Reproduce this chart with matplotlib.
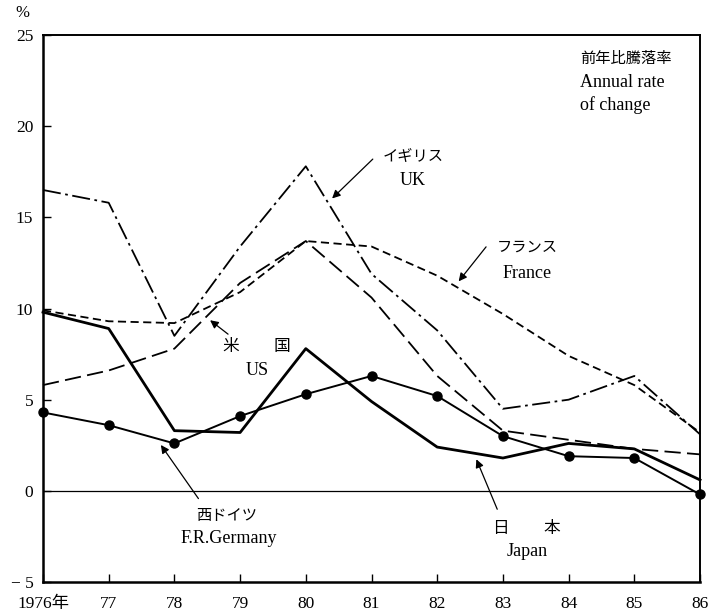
import matplotlib
matplotlib.use("Agg")
import matplotlib.pyplot as plt

plt.rcParams['font.family'] = ['Liberation Serif', 'Noto Sans CJK JP', 'DejaVu Sans']

years = [1976, 1977, 1978, 1979, 1980, 1981, 1982, 1983, 1984, 1985, 1986]
year_labels = ['1976年', '77', '78', '79', '80', '81', '82', '83', '84', '85', '86']
japan = [9.8, 8.9, 3.3, 3.2, 7.8, 4.9, 2.4, 1.8, 2.6, 2.3, 0.6]
germany = [4.3, 3.6, 2.6, 4.1, 5.3, 6.3, 5.2, 3.0, 1.9, 1.8, -0.2]
us = [5.8, 6.6, 7.8, 11.4, 13.7, 10.6, 6.3, 3.3, 2.8, 2.3, 2.0]
france = [9.9, 9.3, 9.2, 10.9, 13.7, 13.4, 11.8, 9.7, 7.4, 5.8, 3.2]
uk = [16.5, 15.8, 8.5, 13.4, 17.8, 11.9, 8.8, 4.5, 5.0, 6.3, 3.1]
yticks = [-5, 0, 5, 10, 15, 20, 25]
ytick_labels = ['− 5', '0', '5', '10', '15', '20', '25']

fig = plt.figure(figsize=(7.13, 6.14), dpi=100)
ax = fig.add_axes([0.0603, 0.0521, 0.9215, 0.8909])

ax.plot(years, japan, color='black', lw=2.0, clip_on=False)
ax.plot(years, germany, color='black', lw=1.4, marker='o', ms=6.5, clip_on=False, zorder=4)
ax.plot(years, us, color='black', lw=1.3, dashes=(9, 3.5), clip_on=False)
ax.plot(years, france, color='black', lw=1.3, dashes=(4.5, 2.5), clip_on=False)
ax.plot(years, uk, color='black', lw=1.3, dashes=(10, 2.5, 1.5, 2.5), clip_on=False)
ax.axhline(0, color='black', lw=0.9)

ax.set_xlim(1976, 1986)
ax.set_ylim(-5, 25)
ax.set_xticks(years)
ax.set_xticklabels(year_labels, fontsize=12.5)
ax.set_yticks(yticks)
ax.set_yticklabels(ytick_labels, fontsize=12.5)
ax.tick_params(direction='in', length=6, width=1.0)
ax.tick_params(axis='x', pad=10)
ax.tick_params(axis='y', pad=7)
for s in ax.spines.values():
    s.set_linewidth(1.4)
ax.spines['bottom'].set_linewidth(1.8)
ax.spines['left'].set_linewidth(1.8)

fig.text(0.032, 0.979, '%', fontsize=12, ha='center', va='center')

arrow = dict(arrowstyle='-|>', color='black', lw=0.9, mutation_scale=12)
jfs = 11
efs = 13

# UK
ax.annotate('', xy=(1980.37, 15.93), xytext=(1981.05, 18.3), arrowprops=arrow)
ax.text(1981.63, 18.35, 'イギリス', fontsize=jfs, ha='center', va='center')
ax.text(1981.63, 17.0, 'UK', fontsize=efs, ha='center', va='center')
# France
ax.annotate('', xy=(1982.30, 11.37), xytext=(1982.77, 13.5), arrowprops=arrow)
ax.text(1983.37, 13.3, 'フランス', fontsize=jfs, ha='center', va='center')
ax.text(1983.37, 11.9, 'France', fontsize=efs, ha='center', va='center')
# US
ax.annotate('', xy=(1978.51, 9.45), xytext=(1978.85, 8.5), arrowprops=arrow)
ax.text(1978.85, 7.9, '米', fontsize=jfs + 1, ha='center', va='center')
ax.text(1979.64, 7.9, '国', fontsize=jfs + 1, ha='center', va='center')
ax.text(1979.26, 6.6, 'US', fontsize=efs, ha='center', va='center')
# Germany
ax.annotate('', xy=(1977.77, 2.64), xytext=(1978.39, -0.55), arrowprops=arrow)
ax.text(1978.80, -1.43, '西ドイツ', fontsize=jfs, ha='center', va='center')
ax.text(1978.82, -2.64, 'F.R.Germany', fontsize=efs, ha='center', va='center')
# Japan
ax.annotate('', xy=(1982.58, 1.87), xytext=(1982.93, -1.15), arrowprops=arrow)
ax.text(1982.96, -2.09, '日', fontsize=jfs + 1, ha='center', va='center')
ax.text(1983.75, -2.09, '本', fontsize=jfs + 1, ha='center', va='center')
ax.text(1983.37, -3.35, 'Japan', fontsize=efs, ha='center', va='center')

# Top-right label
ax.text(1984.17, 23.7, '前年比騰落率', fontsize=jfs, ha='left', va='center')
ax.text(1984.17, 22.4, 'Annual rate', fontsize=efs, ha='left', va='center')
ax.text(1984.17, 21.15, 'of change', fontsize=efs, ha='left', va='center')

fig.savefig('out.png', dpi=100)
